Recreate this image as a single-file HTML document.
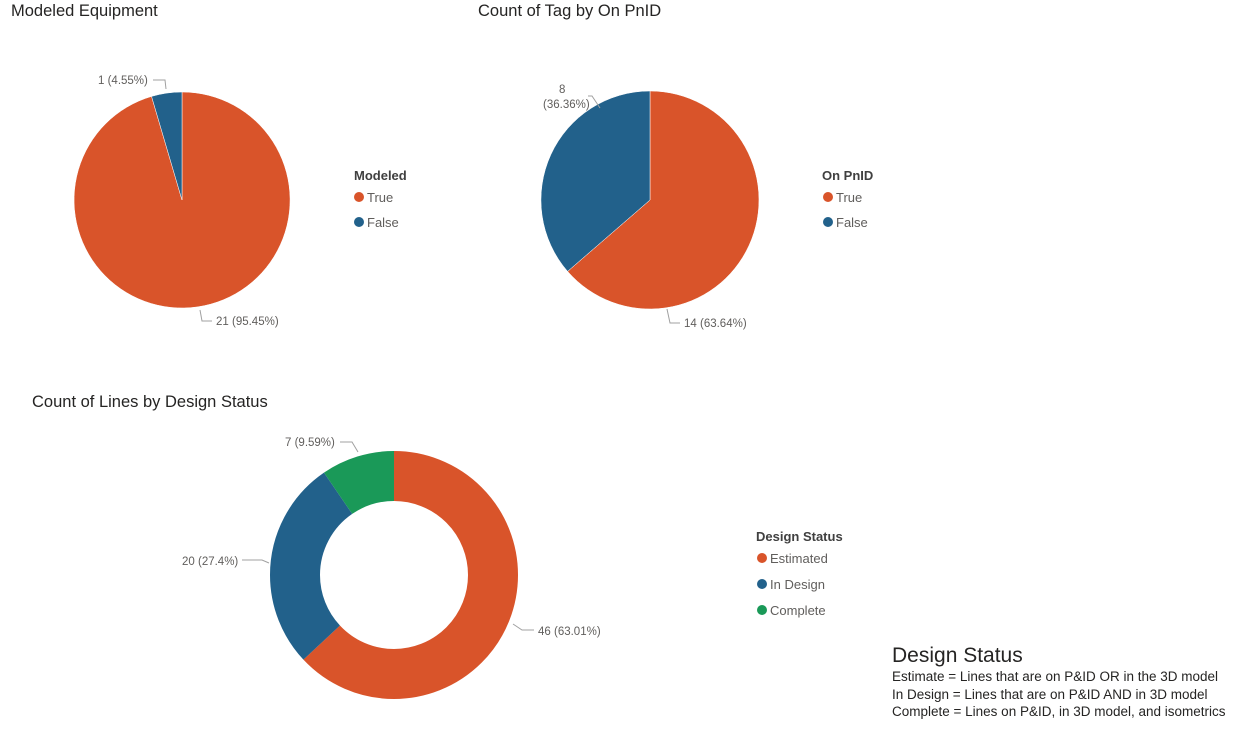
<!DOCTYPE html>
<html><head><meta charset="utf-8"><style>
html,body{margin:0;padding:0;background:#fff;width:1246px;height:739px;overflow:hidden}
svg{display:block;font-family:"Liberation Sans",sans-serif}
.t{font-size:16.5px;fill:#252423}
.l{font-size:11.5px;fill:#605E5C}
.lg{font-size:13px;fill:#605E5C}
.lh{font-size:13px;font-weight:bold;fill:#404040}
.ln{fill:none;stroke:#A0A0A0;stroke-width:1}
</style></head><body>
<svg width="1246" height="739" viewBox="0 0 1246 739">
<text class="t" x="11" y="16">Modeled Equipment</text>
<path d="M182,200 L182,92 A108,108 0 1 1 151.54,96.4 Z" fill="#D9542A" stroke="#fff" stroke-width="0.5"/>
<path d="M182,200 L151.54,96.4 A108,108 0 0 1 182,92 Z" fill="#22618B" stroke="#fff" stroke-width="0.5"/>
<text class="l" x="98" y="84">1 (4.55%)</text>
<polyline class="ln" points="153,80 165,80 166,89"/>
<text class="l" x="216" y="325">21 (95.45%)</text>
<polyline class="ln" points="200,310 202,321 212,321"/>
<text class="lh" x="354" y="180">Modeled</text>
<circle cx="359" cy="197" r="5" fill="#D9542A"/><text class="lg" x="367" y="202">True</text>
<circle cx="359" cy="222" r="5" fill="#22618B"/><text class="lg" x="367" y="227">False</text>

<text class="t" x="478" y="16">Count of Tag by On PnID</text>
<path d="M650,200 L650,91 A109,109 0 1 1 567.6,271.4 Z" fill="#D9542A" stroke="#fff" stroke-width="0.5"/>
<path d="M650,200 L567.6,271.4 A109,109 0 0 1 650,91 Z" fill="#22618B" stroke="#fff" stroke-width="0.5"/>
<text class="l" x="559" y="93">8</text>
<text class="l" x="543" y="108">(36.36%)</text>
<polyline class="ln" points="588,96 592,96 600,108"/>
<text class="l" x="684" y="327">14 (63.64%)</text>
<polyline class="ln" points="667,309 670,323 680,323"/>
<text class="lh" x="822" y="180">On PnID</text>
<circle cx="828" cy="197" r="5" fill="#D9542A"/><text class="lg" x="836" y="202">True</text>
<circle cx="828" cy="222" r="5" fill="#22618B"/><text class="lg" x="836" y="227">False</text>

<text class="t" x="32" y="407">Count of Lines by Design Status</text>
<g transform="rotate(-90 394 575)">
<circle cx="394" cy="575" r="99" fill="none" stroke="#D9542A" stroke-width="50" stroke-dasharray="391.95 622.04"/>
<circle cx="394" cy="575" r="99" fill="none" stroke="#22618B" stroke-width="50" stroke-dasharray="0 391.95 170.44 622.04"/>
<circle cx="394" cy="575" r="99" fill="none" stroke="#1A9958" stroke-width="50" stroke-dasharray="0 562.39 59.65 622.04"/>
</g>
<text class="l" x="285" y="446">7 (9.59%)</text>
<polyline class="ln" points="340,442 352,442 358,452"/>
<text class="l" x="182" y="565">20 (27.4%)</text>
<polyline class="ln" points="242,560 262,560 269,563"/>
<text class="l" x="538" y="635">46 (63.01%)</text>
<polyline class="ln" points="513,624 522,630 534,630"/>
<text class="lh" x="756" y="541">Design Status</text>
<circle cx="762" cy="558" r="5" fill="#D9542A"/><text class="lg" x="770" y="563">Estimated</text>
<circle cx="762" cy="584" r="5" fill="#22618B"/><text class="lg" x="770" y="589">In Design</text>
<circle cx="762" cy="610" r="5" fill="#1A9958"/><text class="lg" x="770" y="615">Complete</text>

<text x="892" y="662" style="font-size:21px;fill:#252423">Design Status</text>
<text x="892" y="681" style="font-size:13.5px;fill:#252423">Estimate = Lines that are on P&amp;ID OR in the 3D model</text>
<text x="892" y="699" style="font-size:13.5px;fill:#252423">In Design = Lines that are on P&amp;ID AND in 3D model</text>
<text x="892" y="716" style="font-size:13.5px;fill:#252423">Complete = Lines on P&amp;ID, in 3D model, and isometrics</text>
</svg>
</body></html>
